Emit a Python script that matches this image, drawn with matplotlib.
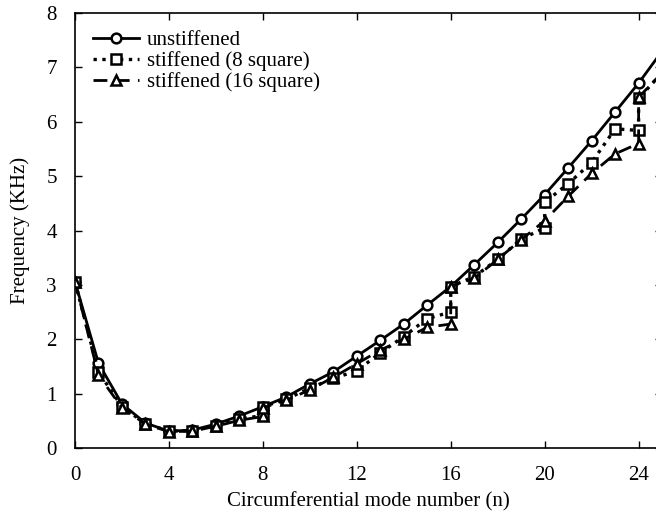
import matplotlib.pyplot as plt
from matplotlib.ticker import MultipleLocator

plt.rcParams['font.family'] = ['Liberation Serif', 'DejaVu Serif']

# unstiffened
n_un = [0, 1, 2, 3, 4, 5, 6, 7, 8, 9, 10, 11, 12, 13, 14, 15, 16, 17, 18, 19, 20, 21, 22, 23, 24, 25]
f_un = [3.06, 1.56, 0.81, 0.46, 0.31, 0.33, 0.44, 0.59, 0.76, 0.94, 1.18, 1.40, 1.69, 1.98, 2.28, 2.63, 2.97,
        3.37, 3.78, 4.21, 4.66, 5.15, 5.65, 6.18, 6.71, 7.30]

# stiffened (8 square)
n_s8 = [0, 1, 2, 3, 4, 5, 6, 7, 8, 8, 9, 10, 11, 12, 13, 14, 15, 16, 16, 17, 18, 19, 20, 20, 21, 22, 23, 24, 24, 25]
f_s8 = [3.06, 1.40, 0.76, 0.45, 0.31, 0.32, 0.41, 0.53, 0.60, 0.76, 0.90, 1.10, 1.28, 1.42, 1.75, 2.05, 2.38, 2.50,
        2.97, 3.15, 3.47, 3.84, 4.05, 4.52, 4.86, 5.25, 5.87, 5.84, 6.43, 6.90]

# stiffened (16 square)
n_s16 = [0, 1, 2, 3, 4, 5, 6, 7, 8, 8, 9, 10, 11, 12, 13, 14, 15, 16, 16, 17, 18, 19, 20, 21, 22, 23, 24, 24, 25]
f_s16 = [3.06, 1.34, 0.74, 0.44, 0.30, 0.31, 0.40, 0.51, 0.58, 0.74, 0.88, 1.07, 1.30, 1.55, 1.80, 2.00, 2.22, 2.28,
         2.97, 3.12, 3.47, 3.83, 4.18, 4.63, 5.05, 5.41, 5.60, 6.45, 6.90]

fig = plt.figure(figsize=(6.56, 5.18), dpi=100)
ax = fig.add_axes([0.1143, 0.1351, 0.895, 0.8398])

mk = dict(markersize=7, markerfacecolor='white', markeredgecolor='black', markeredgewidth=1.8, color='black')
ax.plot(n_un, f_un, '-', marker='o', linewidth=2.0, label='unstiffened', **mk)
ax.plot(n_s8, f_s8, ':', marker='s', linewidth=2.4, label='stiffened (8 square)', **mk)
ax.plot(n_s16, f_s16, '--', marker='^', linewidth=2.0, dashes=(5, 3), label='stiffened (16 square)', **mk)

ax.set_xlim(0, 25)
ax.set_ylim(0, 8)
ax.xaxis.set_major_locator(MultipleLocator(4))
ax.yaxis.set_major_locator(MultipleLocator(1))
ax.tick_params(direction='in', top=True, right=True, length=5, width=1, labelsize=15)
ax.tick_params(axis='x', pad=13)
ax.tick_params(axis='y', pad=13)
for s in ax.spines.values():
    s.set_linewidth(1.2)

ax.set_xlabel('Circumferential mode number (n)', fontsize=15, labelpad=5)
ax.set_ylabel('Frequency (KHz)', fontsize=15, labelpad=12)

ax.legend(loc='upper left', frameon=False, fontsize=15, handlelength=2.2, handletextpad=0.4,
          labelspacing=0.05, borderaxespad=0.45, bbox_to_anchor=(0.0, 1.0))

fig.savefig('out.png', dpi=100)
